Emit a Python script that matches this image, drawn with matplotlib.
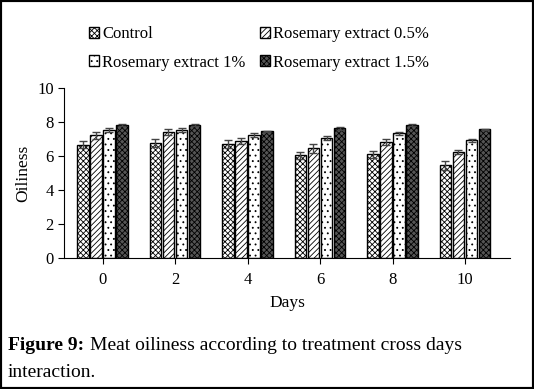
import matplotlib
matplotlib.use('Agg')
from matplotlib import pyplot as plt
from matplotlib.patches import Rectangle
import numpy as np

# data
days = ["0", "2", "4", "6", "8", "10"]
series = ["Control", "Rosemary extract 0.5%", "Rosemary extract 1%", "Rosemary extract 1.5%"]
control = [6.65, 6.76, 6.69, 6.04, 6.10, 5.45]
rose05 = [7.22, 7.39, 6.86, 6.45, 6.80, 6.22]
rose1 = [7.51, 7.51, 7.22, 7.06, 7.33, 6.92]
rose15 = [7.80, 7.80, 7.45, 7.63, 7.82, 7.57]
err_control = [0.20, 0.22, 0.23, 0.20, 0.20, 0.25]
err_rose05 = [0.20, 0.18, 0.18, 0.25, 0.18, 0.12]
err_rose1 = [0.12, 0.12, 0.10, 0.10, 0.10, 0.10]
err_rose15 = [0.05, 0.05, 0.04, 0.10, 0.04, 0.04]

values = [control, rose05, rose1, rose15]
errors = [err_control, err_rose05, err_rose1, err_rose15]
hatches = ['xxxxxx', '//////', '...', 'xxxxxx']
faces = ['white', 'white', 'white', '#555555']

plt.rcParams['font.family'] = ['Liberation Serif', 'DejaVu Serif']
plt.rcParams['hatch.linewidth'] = 0.6

fig = plt.figure(figsize=(5.34, 3.89), dpi=100)
ax = fig.add_axes([0.12, 0.337, 0.835, 0.437])

x = np.arange(len(days))
w = 0.155
step = 0.18
bars = []
for i in range(4):
    pos = x + (i - 1.5) * step
    b = ax.bar(pos, values[i], w, color=faces[i], edgecolor='black', hatch=hatches[i],
               linewidth=1.0, label=series[i])
    bars.append(b)
    ax.errorbar(pos, values[i], yerr=errors[i], fmt='none', ecolor='#444444',
                elinewidth=1, capsize=3, capthick=1)

ax.set_ylim(0, 10)
ax.set_yticks([0, 2, 4, 6, 8, 10])
ax.set_xlim(-0.53, 5.62)
ax.set_xticks(x)
ax.set_xticklabels(days)
ax.spines['top'].set_visible(False)
ax.spines['right'].set_visible(False)
ax.tick_params(labelsize=12, length=4)
ax.tick_params(axis='x', pad=6)
ax.set_xlabel("Days", fontsize=12.5, labelpad=5)
ax.set_ylabel("Oiliness", fontsize=12.5, labelpad=4)

# legend filled row by row
order = [0, 2, 1, 3]
fig.legend([bars[k] for k in order], [series[k] for k in order],
           loc='upper left', bbox_to_anchor=(0.155, 0.95), ncol=2, frameon=False,
           fontsize=12, handlelength=0.6, handleheight=0.6, handletextpad=0.15,
           columnspacing=0.9, labelspacing=0.75, borderaxespad=0)

fig.text(0.015, 0.1, "Figure 9:", fontsize=14, weight='bold')
fig.text(0.168, 0.1, "Meat oiliness according to treatment cross days", fontsize=14)
fig.text(0.015, 0.03, "interaction.", fontsize=14)

fig.patches.append(Rectangle((0, 0), 1, 1, transform=fig.transFigure, fill=False,
                             edgecolor='black', linewidth=3))

plt.savefig("out.png")
